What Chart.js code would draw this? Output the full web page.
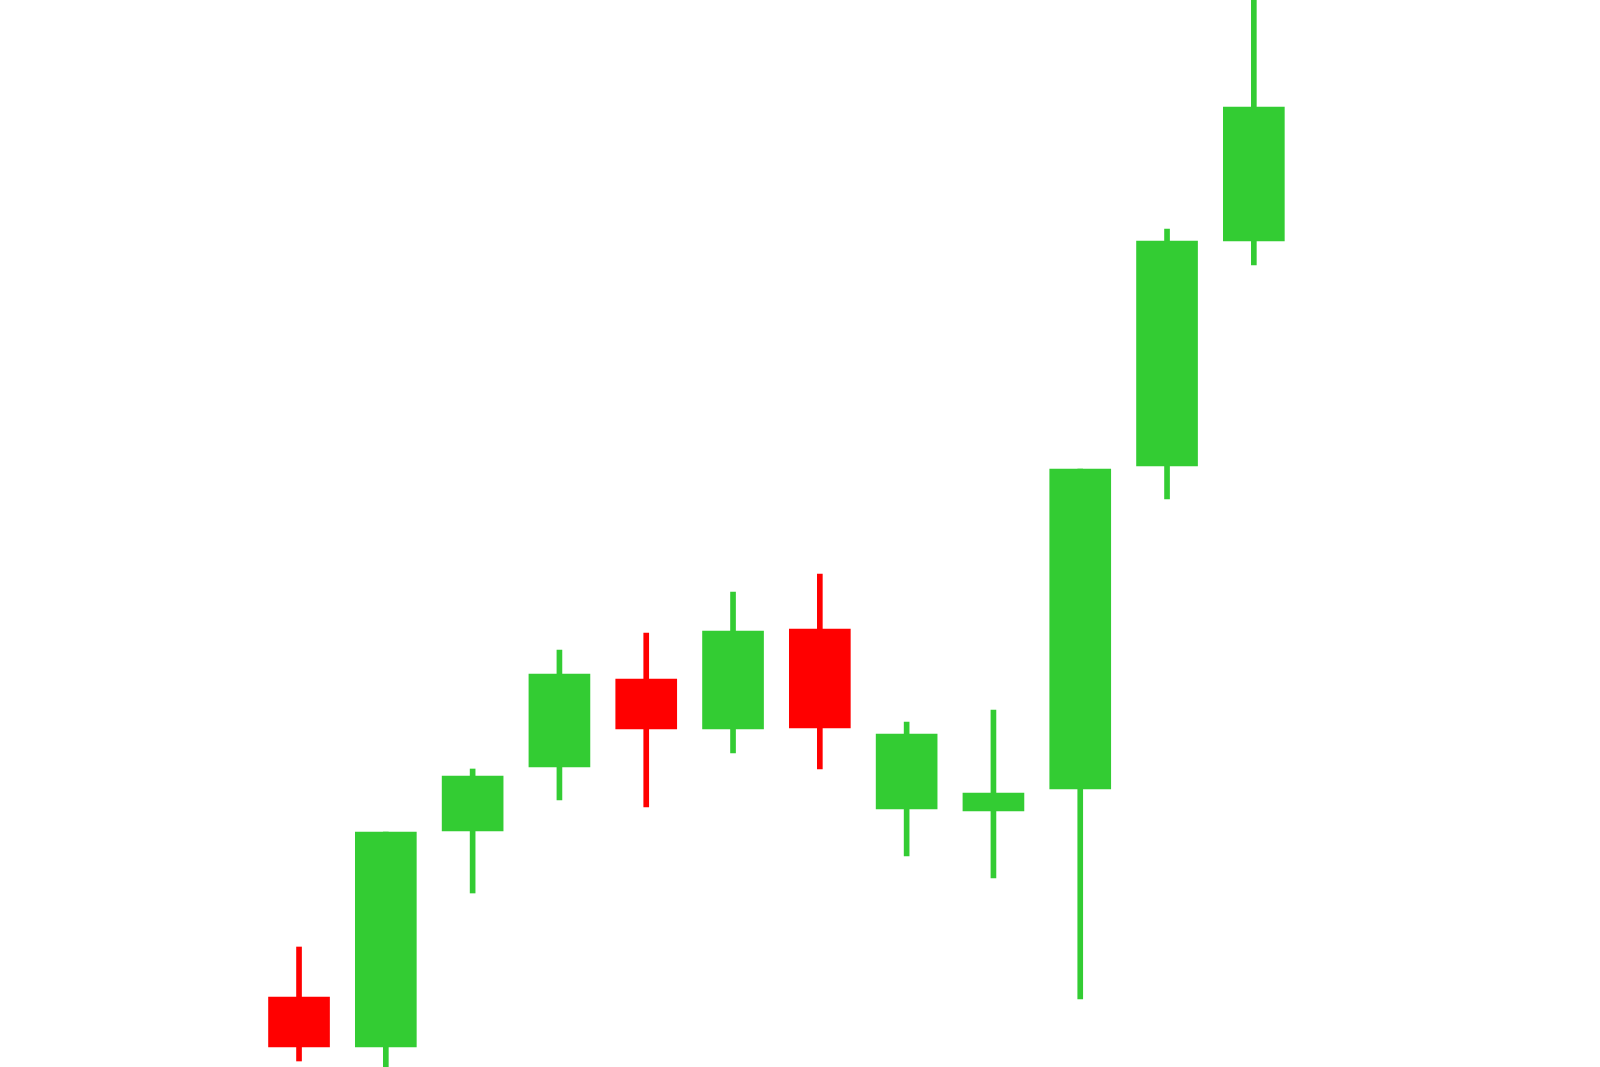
<!DOCTYPE html>
<html>
<head>
<meta charset="utf-8">
<script src="https://cdn.jsdelivr.net/npm/chart.js@4"></script>
<style>
  html, body { margin: 0; padding: 0; background: #fff; }
  #wrap { width: 1600px; height: 1067px; }
</style>
</head>
<body>
<div id="wrap"><canvas id="myChart"></canvas></div>
<script>
// candle data (no axis in the source, so prices are in arbitrary units)
const days = [1, 2, 3, 4, 5, 6, 7, 8, 9, 10, 11, 12];
const opens = [7.0, 2.0, 23.6, 30.0, 38.8, 33.8, 43.8, 25.8, 25.6, 27.8, 60.1, 82.6];
const highs = [12.0, 23.5, 29.8, 41.7, 43.4, 47.5, 49.3, 34.5, 35.7, 59.8, 83.8, 110.0];
const lows = [0.6, -2.0, 17.4, 26.7, 26.0, 31.4, 29.8, 21.1, 18.9, 6.8, 56.8, 80.2];
const closes = [2.0, 23.5, 29.1, 39.3, 33.8, 43.6, 33.9, 33.3, 27.4, 59.8, 82.6, 96.0];

const upColor = '#33cc33';
const downColor = '#ff0000';

const candleColors = days.map((d, i) => (closes[i] >= opens[i] ? upColor : downColor));

const ctx = document.getElementById('myChart').getContext('2d');

const chart = new Chart(ctx, {
  type: 'bar',
  data: {
    datasets: [
      {
        label: 'body',
        data: days.map((d, i) => ({ x: d, y: [opens[i], closes[i]] })),
        backgroundColor: candleColors,
        barThickness: 61,
        grouped: false,
        order: 1,
      },
      {
        label: 'wick',
        data: days.map((d, i) => ({ x: d, y: [lows[i], highs[i]] })),
        backgroundColor: candleColors,
        barThickness: 5,
        grouped: false,
        order: 2,
      },
    ],
  },
  options: {
    responsive: true,
    maintainAspectRatio: false,
    animation: false,
    layout: { padding: 0 },
    plugins: {
      legend: { display: false },
      tooltip: { enabled: false },
    },
    scales: {
      x: {
        type: 'linear',
        display: false,
        offset: false,
        min: -2.445,
        max: 15.988,
        grid: { display: false },
      },
      y: {
        display: false,
        min: 0,
        max: 106.7,
        grid: { display: false },
      },
    },
  },
});
</script>
</body>
</html>
